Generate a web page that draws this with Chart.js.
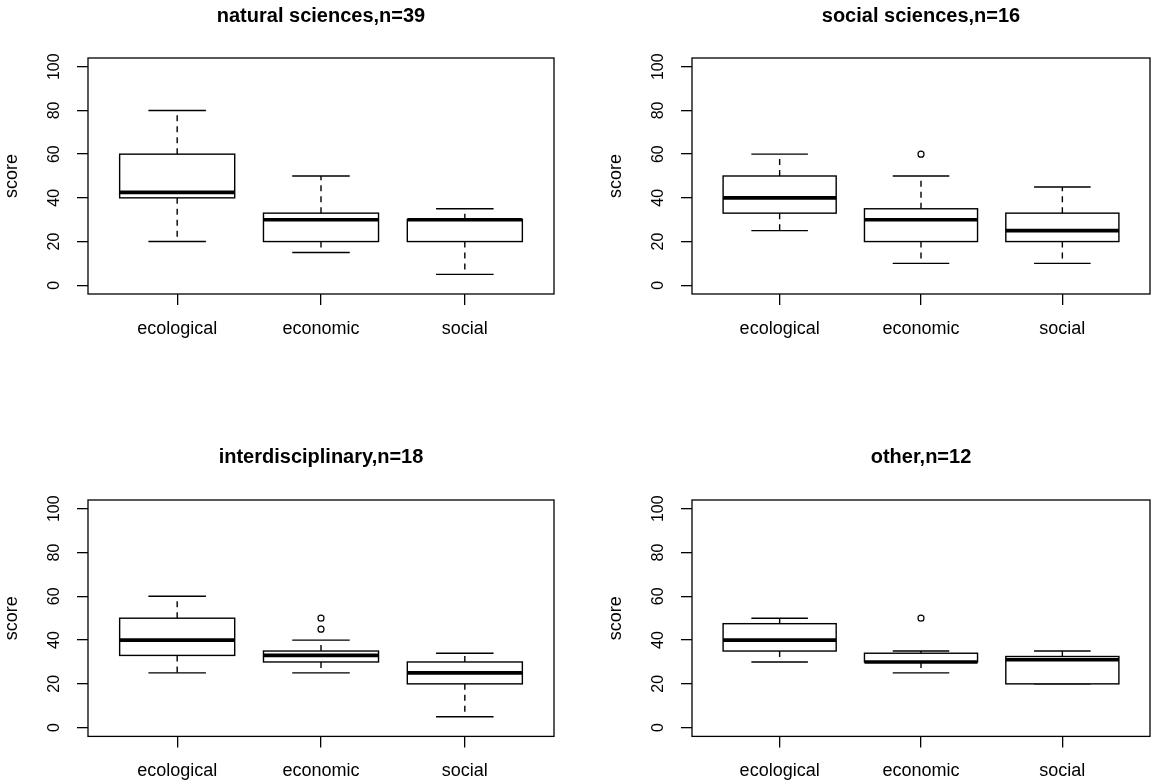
<!DOCTYPE html>
<html>
<head>
<meta charset="utf-8">
<script src="https://cdn.jsdelivr.net/npm/chart.js@4/dist/chart.umd.min.js"></script>
<style>
	body { margin: 0; background: #fff; overflow: hidden; }
	.panel { position: absolute; width: 580px; height: 392px; }
	.low { height: 403px; }
</style>
</head>
<body>
<div class="panel" style="left:0;top:0"><canvas id="p1"></canvas></div>
<div class="panel" style="left:580px;top:0"><canvas id="p2"></canvas></div>
<div class="panel low" style="left:0;top:392px"><canvas id="p3"></canvas></div>
<div class="panel low" style="left:580px;top:392px"><canvas id="p4"></canvas></div>
<script>
const categories = ["ecological", "economic", "social"];
const yTicks = [0, 20, 40, 60, 80, 100];
const titles = ["natural sciences,n=39", "social sciences,n=16", "interdisciplinary,n=18", "other,n=12"];

// per category: [lower whisker, Q1, median, Q3, upper whisker]
const naturalSciences = [[20, 40, 42.5, 60, 80], [15, 20, 30, 33, 50], [5, 20, 30, 30, 35]];
const socialSciences = [[25, 33, 40, 50, 60], [10, 20, 30, 35, 50], [10, 20, 25, 33, 45]];
const interdisciplinary = [[25, 33, 40, 50, 60], [25, 30, 33, 35, 40], [5, 20, 25, 30, 34]];
const other = [[30, 35, 40, 47.5, 50], [25, 30, 30, 34, 35], [20, 20, 31, 32.5, 35]];

const naturalOutliers = [[], [], []];
const socialOutliers = [[], [60], []];
const interOutliers = [[], [45, 50], []];
const otherOutliers = [[], [50], []];

const FONT = "'Liberation Sans', Arial, sans-serif";
Chart.defaults.font.family = FONT;
Chart.defaults.color = "#000";

const boxplotPlugin = {
	id: "boxplot",
	beforeDatasetsDraw(chart, args, opts) {
		const ctx = chart.ctx;
		const xs = chart.scales.x, ys = chart.scales.y;
		ctx.save();
		ctx.strokeStyle = "#000";
		opts.stats.forEach((s, i) => {
			const xc = xs.getPixelForValue(i + 1);
			const hw = xs.getPixelForValue(i + 1.4) - xc;
			const cw = xs.getPixelForValue(i + 1.2) - xc;
			const [lo, q1, med, q3, hi] = s.map(v => ys.getPixelForValue(v));
			// whiskers
			ctx.lineWidth = 1.4;
			ctx.setLineDash([6, 5]);
			ctx.beginPath();
			ctx.moveTo(xc, q3); ctx.lineTo(xc, hi);
			ctx.moveTo(xc, q1); ctx.lineTo(xc, lo);
			ctx.stroke();
			ctx.setLineDash([]);
			ctx.beginPath();
			ctx.moveTo(xc - cw, hi); ctx.lineTo(xc + cw, hi);
			ctx.moveTo(xc - cw, lo); ctx.lineTo(xc + cw, lo);
			ctx.stroke();
			// box
			ctx.fillStyle = "#fff";
			ctx.fillRect(xc - hw, q3, 2 * hw, q1 - q3);
			ctx.strokeRect(xc - hw, q3, 2 * hw, q1 - q3);
			// median
			ctx.lineWidth = 3.6;
			ctx.beginPath();
			ctx.moveTo(xc - hw, med); ctx.lineTo(xc + hw, med);
			ctx.stroke();
		});
		ctx.restore();
	},
	afterDraw(chart) {
		const ctx = chart.ctx;
		const ys = chart.scales.y;
		const area = chart.chartArea;
		ctx.save();
		ctx.strokeStyle = "#000";
		ctx.lineWidth = 1.3;
		ctx.strokeRect(area.left, area.top, area.right - area.left, area.bottom - area.top);
		ctx.fillStyle = "#000";
		ctx.textAlign = "center";
		ctx.textBaseline = "middle";
		ctx.font = "16px " + FONT;
		yTicks.forEach(v => {
			ctx.save();
			ctx.translate(area.left - 33, ys.getPixelForValue(v));
			ctx.rotate(-Math.PI / 2);
			ctx.fillText(String(v), 0, 0);
			ctx.restore();
		});
		ctx.font = "18px " + FONT;
		ctx.translate(area.left - 76, (area.top + area.bottom) / 2);
		ctx.rotate(-Math.PI / 2);
		ctx.fillText("score", 0, 0);
		ctx.restore();
	}
};

function makePanel(id, title, stats, outliers, pad, titlePad) {
	const points = [];
	outliers.forEach((list, i) => list.forEach(v => points.push({ x: i + 1, y: v })));
	const axisGrid = {
		drawOnChartArea: false,
		drawTicks: true,
		tickLength: 11,
		color: "#000",
		lineWidth: 1.3
	};
	new Chart(document.getElementById(id), {
		type: "scatter",
		data: {
			datasets: [{
				data: points,
				pointRadius: 3,
				pointBorderWidth: 1.2,
				borderColor: "#000",
				backgroundColor: "#fff"
			}]
		},
		options: {
			responsive: true,
			maintainAspectRatio: false,
			animation: false,
			layout: { padding: pad },
			plugins: {
				legend: { display: false },
				tooltip: { enabled: false },
				title: {
					display: true,
					text: title,
					fullSize: false,
					color: "#000",
					font: { size: 20, weight: "bold" },
					padding: titlePad
				},
				boxplot: { stats: stats }
			},
			scales: {
				x: {
					type: "linear",
					min: 0.38,
					max: 3.62,
					afterBuildTicks: s => { s.ticks = categories.map((c, i) => ({ value: i + 1 })); },
					ticks: {
						callback: v => categories[v - 1],
						font: { size: 18 },
						color: "#000",
						padding: 13,
						maxRotation: 0,
						autoSkip: false
					},
					grid: axisGrid,
					border: { display: false }
				},
				y: {
					min: -4,
					max: 104,
					afterBuildTicks: s => { s.ticks = yTicks.map(v => ({ value: v })); },
					ticks: { display: false },
					grid: axisGrid,
					border: { display: false }
				}
			}
		},
		plugins: [boxplotPlugin]
	});
}

makePanel("p1", titles[0], naturalSciences, naturalOutliers,
	{ left: 77, right: 26, top: 0, bottom: 39.4 }, { top: 4, bottom: 30 });
makePanel("p2", titles[1], socialSciences, socialOutliers,
	{ left: 101, right: 10, top: 0, bottom: 39.4 }, { top: 4, bottom: 30 });
makePanel("p3", titles[2], interdisciplinary, interOutliers,
	{ left: 77, right: 26, top: 0, bottom: 0 }, { top: 53, bottom: 31 });
makePanel("p4", titles[3], other, otherOutliers,
	{ left: 101, right: 10, top: 0, bottom: 0 }, { top: 53, bottom: 31 });
</script>
</body>
</html>
